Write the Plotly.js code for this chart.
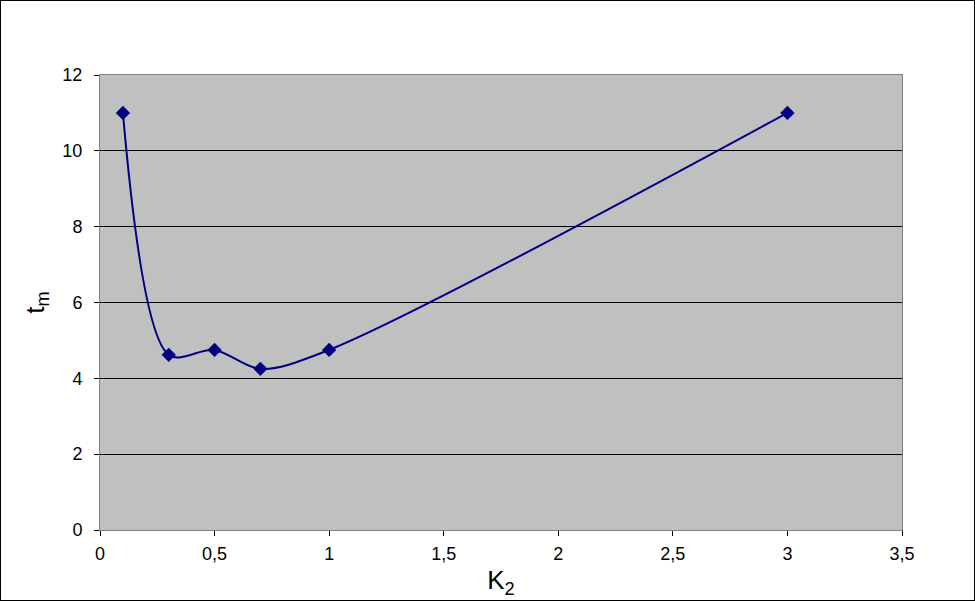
<!DOCTYPE html>
<html>
<head>
<meta charset="utf-8">
<script src="https://cdn.plot.ly/plotly-3.0.1.min.js"></script>
<style>
html,body{margin:0;padding:0;background:#fff;}
#wrap{position:relative;width:975px;height:601px;}
#chart{width:975px;height:601px;}
#frame{position:absolute;left:0;top:0;width:973px;height:599px;border:1px solid #000;pointer-events:none;}
</style>
</head>
<body>
<div id="wrap"><div id="chart"></div><div id="frame"></div></div>
<script>
const k2Values = [0.1, 0.3, 0.5, 0.7, 1, 3];
const tmValues = [11, 4.62, 4.75, 4.25, 4.75, 11];
const xTickVals = [0, 0.5, 1, 1.5, 2, 2.5, 3, 3.5];
const yTickVals = [0, 2, 4, 6, 8, 10, 12];

const trace = {
  x: k2Values,
  y: tmValues,
  type: 'scatter',
  mode: 'lines+markers',
  line: {color: '#000080', width: 2, shape: 'spline', smoothing: 0.9},
  marker: {symbol: 'diamond', size: 11, color: '#000080'},
  hoverinfo: 'none'
};

const font = {family: 'Liberation Sans, Arial, sans-serif', color: '#000'};

const layout = {
  width: 975, height: 601,
  margin: {l: 100, r: 73, t: 75, b: 71},
  paper_bgcolor: '#ffffff',
  plot_bgcolor: '#c0c0c0',
  separators: ', ',
  showlegend: false,
  font: Object.assign({size: 18}, font),
  xaxis: {
    range: [0, 3.5],
    tickvals: xTickVals,
    showgrid: false,
    zeroline: false,
    showline: true, linecolor: '#808080', linewidth: 1, mirror: true,
    ticks: 'outside', ticklen: 5, tickcolor: '#000', tickwidth: 1,
    ticklabelstandoff: 2,
    tickfont: Object.assign({size: 18}, font),
    title: {text: 'K<sub>2</sub>', font: Object.assign({size: 26}, font), standoff: 8}
  },
  yaxis: {
    range: [0, 12],
    tickvals: yTickVals,
    showgrid: true, gridcolor: '#000', gridwidth: 1,
    zeroline: false,
    showline: true, linecolor: '#808080', linewidth: 1, mirror: true,
    ticks: 'outside', ticklen: 5, tickcolor: '#000', tickwidth: 1,
    ticklabelstandoff: 8,
    tickfont: Object.assign({size: 18}, font),
    title: {text: 't<sub>m</sub>', font: Object.assign({size: 26}, font), standoff: 10}
  }
};

Plotly.newPlot('chart', [trace], layout, {displayModeBar: false, staticPlot: true});
</script>
</body>
</html>
